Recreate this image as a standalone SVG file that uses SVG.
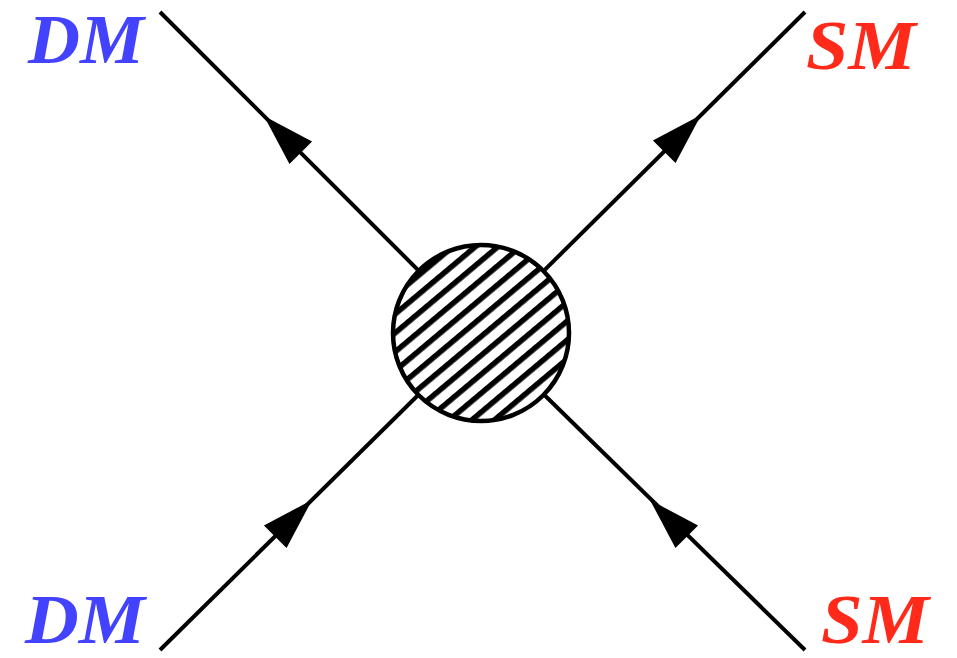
<svg xmlns="http://www.w3.org/2000/svg" width="957" height="658" viewBox="0 0 957 658">
<style>
.ln{stroke:#000;stroke-width:4;fill:none}
.ar{fill:#000}
.lbl{font-family:"Liberation Serif",serif;font-weight:bold;font-style:italic;font-size:70px}
.dm{fill:#4242ff}
.sm{fill:#ff2a1a}
</style>
<defs>
<pattern id="hatch" patternUnits="userSpaceOnUse" width="14.5" height="14.5" patternTransform="translate(481,333) rotate(-40)">
<rect width="14.5" height="14.5" fill="#fff"/>
<rect y="0" width="14.5" height="5.5" fill="#000"/>
</pattern>
<path id="arrow" d="M0,0 L-52,-16 L-52,16 Z"/>
</defs>
<g id="connectors">
<line class="ln" x1="160" y1="12" x2="481" y2="333"/>
<line class="ln" x1="805" y1="12" x2="481" y2="333"/>
<line class="ln" x1="160" y1="650" x2="481" y2="333"/>
<line class="ln" x1="805" y1="650" x2="481" y2="333"/>
<use href="#arrow" class="ar" transform="translate(264,116) rotate(-135)"/>
<use href="#arrow" class="ar" transform="translate(701,115) rotate(-45)"/>
<use href="#arrow" class="ar" transform="translate(312,500) rotate(-45)"/>
<use href="#arrow" class="ar" transform="translate(650,500) rotate(-135)"/>
</g>
<g id="vertex">
<circle cx="481" cy="333" r="88" fill="url(#hatch)" stroke="#000" stroke-width="4.5"/>
</g>
<g id="label-dm-top"><text class="lbl dm" x="28" y="63" textLength="116" lengthAdjust="spacingAndGlyphs">DM</text></g>
<g id="label-sm-top"><text class="lbl sm" x="806" y="69" textLength="110" lengthAdjust="spacingAndGlyphs">SM</text></g>
<g id="label-dm-bottom"><text class="lbl dm" x="25" y="643" textLength="120" lengthAdjust="spacingAndGlyphs">DM</text></g>
<g id="label-sm-bottom"><text class="lbl sm" x="821" y="643" textLength="108" lengthAdjust="spacingAndGlyphs">SM</text></g>
</svg>
